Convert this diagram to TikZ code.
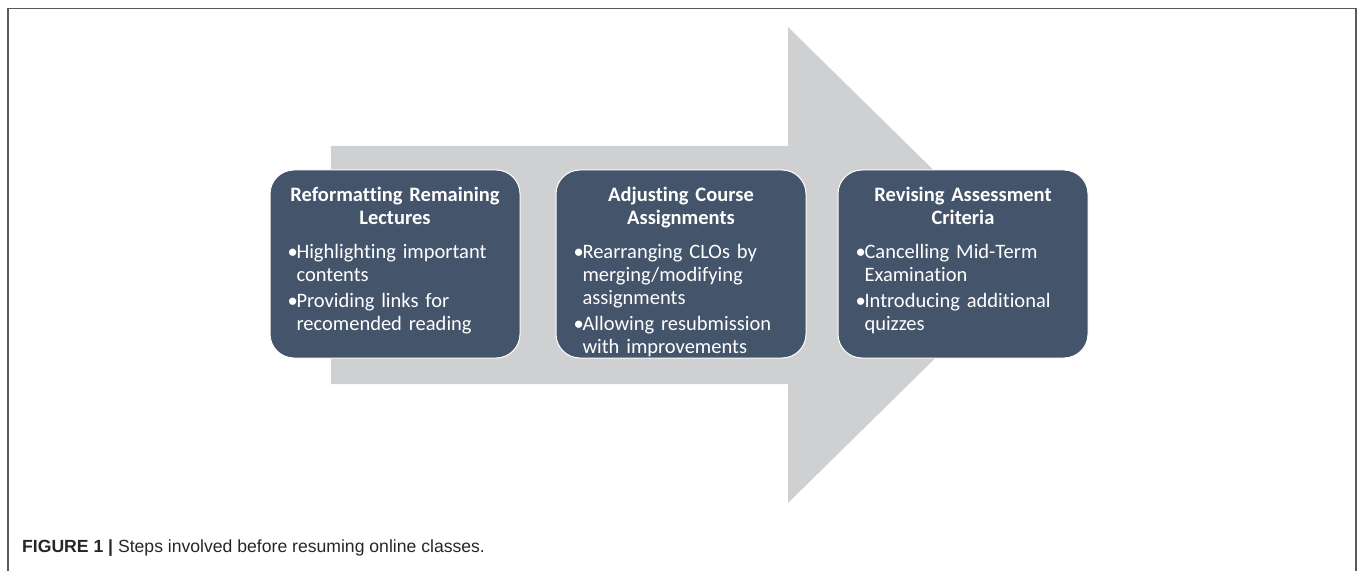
\documentclass[tikz,border=0pt]{standalone}
\usepackage{fontspec}
\setmainfont{Carlito}[Ligatures=CommonOff]
\newfontfamily\capfont{Liberation Sans}
\usetikzlibrary{positioning}
\definecolor{slate}{HTML}{44546A}
\definecolor{arrowgray}{HTML}{CFD0D2}
\definecolor{framegray}{HTML}{5A5A5A}
\newcommand\steptitle[1]{{\centering\bfseries #1\par}\vspace{11pt}}
\newcommand\stepitem[1]{\raggedright\hangindent=9pt\hangafter=1\noindent\makebox[9pt][l]{•}#1\par\vspace{3pt}}

\begin{document}
\begin{tikzpicture}[x=1pt, y=1pt,
  stepbox/.style={rectangle, rounded corners=24pt, fill=slate, draw=white, line width=1pt, minimum width=250pt, minimum height=188pt},
  steptext/.style={inner sep=0pt, text width=215pt, text=white, font=\fontsize{20.5}{23}\selectfont}]
\useasboundingbox (0, 0) rectangle (1357, 571);
\draw [framegray, line width=1.5pt] (8, 0) -- (8, 562.5) -- (1356, 562.5) -- (1356, 0);
% big arrow behind the steps
\fill [arrowgray] (331, 187) -- (331, 425) -- (788, 425) -- (788, 544) -- (1030, 306) -- (788, 68) -- (788, 187) -- cycle;
\node [stepbox] (b1) at (395, 307) {};
\node [stepbox] (b2) at (681, 307) {};
\node [stepbox] (b3) at (963, 307) {};
\node [steptext, below=17pt of b1.north] (t1) {\steptitle{Reformatting Remaining\\ Lectures}\stepitem{Highlighting important\newline contents}\stepitem{Providing links for\newline recomended reading}};
\node [steptext, below=17pt of b2.north] (t2) {\steptitle{Adjusting Course\\ Assignments}\stepitem{Rearranging CLOs by\newline merging/modifying\newline assignments}\stepitem{Allowing resubmission\newline with improvements}};
\node [steptext, below=17pt of b3.north] (t3) {\steptitle{Revising Assessment\\ Criteria}\stepitem{Cancelling Mid-Term\newline Examination}\stepitem{Introducing additional\newline quizzes}};
\node [anchor=base west, inner sep=0pt, text=black!85, font=\capfont\fontsize{17.6}{20}\selectfont] (cap) at (22, 19) {\textbf{FIGURE 1 |} Steps involved before resuming online classes.};
\end{tikzpicture}
\end{document}
